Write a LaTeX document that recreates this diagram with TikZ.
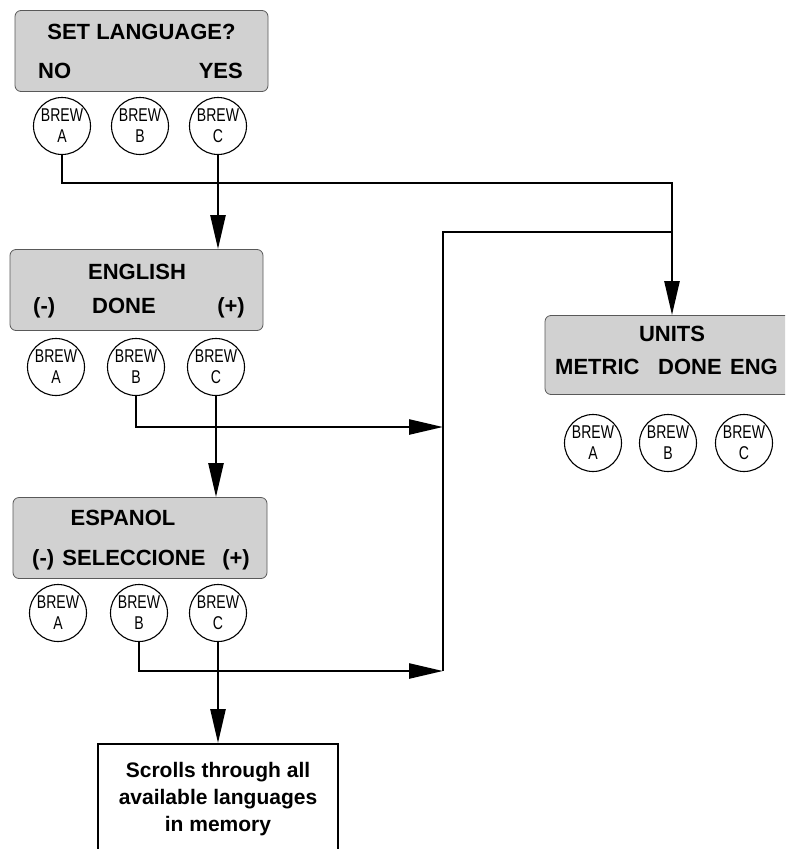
\documentclass[tikz,border=0pt]{standalone}
\usepackage{fontspec}
\setmainfont{Liberation Sans}
\newfontfamily\brewfont[FakeStretch=0.76]{Liberation Sans}
\usetikzlibrary{arrows.meta}
\begin{document}
\begin{tikzpicture}[x=1pt,y=-1pt,
  disp/.style={draw=black!65, line width=0.8pt, fill=black!18, rounded corners=6pt, minimum height=81pt, inner sep=0pt},
  dtext/.style={inner sep=0pt, font=\bfseries\fontsize{22}{22}\selectfont},
  btn/.style={circle, draw, line width=1.1pt, minimum size=57pt, inner sep=0pt, align=center, font=\brewfont\fontsize{18.5}{21}\selectfont},
  conn/.style={line width=2.5pt},
  arr/.style={-{Triangle[length=34pt,width=15pt]}},
  finalbox/.style={draw, line width=1.8pt, minimum width=240pt, minimum height=110pt, align=center, font=\bfseries\fontsize{21}{27}\selectfont}
]
\useasboundingbox (0,0) rectangle (785,849);
\begin{scope}
\clip (0,0) rectangle (785,849);

% SET LANGUAGE display
\node[disp, minimum width=253pt] (setlang) at (141.5,51) {};
\node[dtext, anchor=base] (setlangT) at (141.5,39) {SET LANGUAGE?};
\node[dtext, anchor=base west] (setlangNo) at (38,78) {NO};
\node[dtext, anchor=base east] (setlangYes) at (243,78) {YES};
\node[btn] (a1) at (62,126) {BREW\\A};
\node[btn] (b1) at (140,126) {BREW\\B};
\node[btn] (c1) at (218,126) {BREW\\C};

% ENGLISH display
\node[disp, minimum width=253pt] (english) at (136.5,290) {};
\node[dtext, anchor=base] (englishT) at (137,279) {ENGLISH};
\node[dtext, anchor=base west] (englishM) at (33,313) {(-)};
\node[dtext, anchor=base] (englishD) at (124,313) {DONE};
\node[dtext, anchor=base east] (englishP) at (245,313) {(+)};
\node[btn] (a2) at (56,367) {BREW\\A};
\node[btn] (b2) at (136,367) {BREW\\B};
\node[btn] (c2) at (216,367) {BREW\\C};

% ESPANOL display
\node[disp, minimum width=254pt] (espanol) at (140,538) {};
\node[dtext, anchor=base] (espanolT) at (123,525) {ESPANOL};
\node[dtext, anchor=base west] (espanolM) at (32,565) {(-)};
\node[dtext, anchor=base] (espanolS) at (134,565) {SELECCIONE};
\node[dtext, anchor=base east] (espanolP) at (250,565) {(+)};
\node[btn] (a3) at (58,613) {BREW\\A};
\node[btn] (b3) at (139,613) {BREW\\B};
\node[btn] (c3) at (218,613) {BREW\\C};

% UNITS display
\node[disp, minimum width=247pt, minimum height=79pt] (units) at (668.5,355) {};
\node[dtext, anchor=base] (unitsT) at (672,341) {UNITS};
\node[dtext, anchor=base west] (unitsM) at (555,374) {METRIC};
\node[dtext, anchor=base] (unitsD) at (690,374) {DONE};
\node[dtext, anchor=base east] (unitsE) at (778,374) {ENG};
\node[btn] (a4) at (593,443) {BREW\\A};
\node[btn] (b4) at (668,443) {BREW\\B};
\node[btn] (c4) at (744,443) {BREW\\C};

% final box
\node[finalbox] (final) at (218,799) {Scrolls through all\\available languages\\in memory};

% connectors
\coordinate (h1) at (672,183);
\coordinate (vtop) at (443,232);
\coordinate (v2) at (443,427);
\coordinate (v3) at (443,671);

\draw[conn, arr] (a1.south) |- (h1) -- (h1 |- units.north);
\draw[conn, arr] (c1.south) -- (c1.south |- english.north);
\draw[conn, arr] (b2.south) |- (v2);
\draw[conn, arr] (c2.south) -- (c2.south |- espanol.north);
\draw[conn, arr] (b3.south) |- (v3);
\draw[conn, arr] (c3.south) -- (c3.south |- final.north);
\draw[conn] (v3) -- (vtop) -- (vtop -| h1);
\end{scope}
\end{tikzpicture}
\end{document}
